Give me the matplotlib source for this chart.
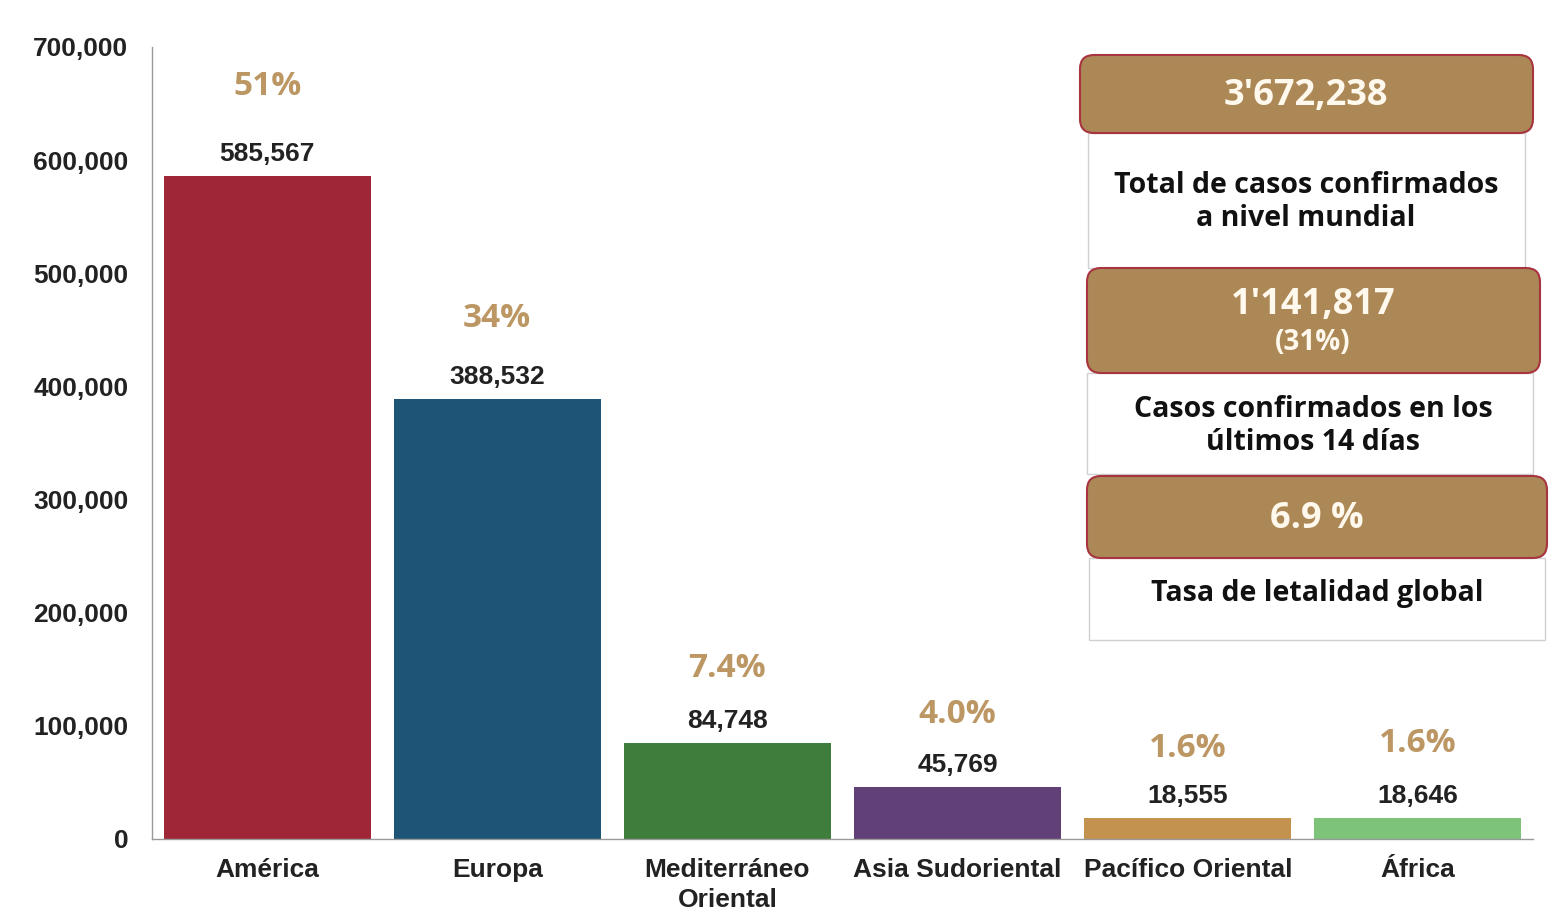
import numpy as np
import matplotlib.pyplot as plt
from matplotlib.patches import FancyBboxPatch, Rectangle
from matplotlib import font_manager

# Casos confirmados por region OMS
regions = ['América', 'Europa', 'Mediterráneo\nOriental', 'Asia Sudoriental',
           'Pacífico Oriental', 'África']
cases = [585567, 388532, 84748, 45769, 18555, 18646]
shares = ['51%', '34%', '7.4%', '4.0%', '1.6%', '1.6%']
bar_colors = ['#9E2637', '#1E5577', '#3E7D3B', '#614077', '#C4924F', '#7DC47A']

# cifras de los recuadros
total_cases = "3'672,238"
recent_cases = "1'141,817"
recent_share = '(31%)'
lethality = '6.9 %'

yticks = [0, 100000, 200000, 300000, 400000, 500000, 600000, 700000]

names = {f.name for f in font_manager.fontManager.ttflist}
narrow = 'Liberation Sans Narrow' if 'Liberation Sans Narrow' in names else 'Liberation Sans'
boxfont = 'Open Sans'

tan = '#BC9764'
header = '#AD8857'
edge_red = '#A8343F'

# distancia (px) de la etiqueta de porcentaje sobre cada barra
pct_gap = [90, 81, 75, 73, 70, 74]

fig = plt.figure(figsize=(15.5, 9.23), dpi=100)
ax = fig.add_axes([152 / 1550, 1 - 839 / 923, (1533 - 152) / 1550, (839 - 47) / 923])

ind = np.arange(len(regions))
ax.bar(ind, cases, width=0.9, color=bar_colors)
ax.set_xlim(-0.5, 5.5)
ax.set_ylim(0, 700000)

ax.set_yticks(yticks)
ax.set_yticklabels([f'{v:,}' for v in yticks], fontfamily=narrow,
                   fontweight='bold', fontsize=19, color='#222222')
ax.set_xticks(ind)
ax.set_xticklabels(regions, fontfamily=narrow, fontweight='bold',
                   fontsize=19, color='#222222', linespacing=1.3)
ax.tick_params(axis='y', length=0, pad=17)
ax.tick_params(axis='x', length=0, pad=14)

for s in ['top', 'right']:
    ax.spines[s].set_visible(False)
ax.spines['left'].set_color('#999999')
ax.spines['bottom'].set_color('#999999')
ax.spines['left'].set_linewidth(1)
ax.spines['bottom'].set_linewidth(1)

for i, (v, p) in enumerate(zip(cases, shares)):
    ax.annotate(f'{v:,}', (i, v), xytext=(0, 16), textcoords='offset points',
                ha='center', va='center', fontfamily=narrow, fontweight='bold',
                fontsize=19, color='#222222')
    ax.annotate(p, (i, v), xytext=(0, pct_gap[i] * 0.72), textcoords='offset points',
                ha='center', va='center', fontfamily=boxfont, fontweight='bold',
                fontsize=24, color=tan)

# recuadros de la derecha, en pixeles
ov = fig.add_axes([0, 0, 1, 1])
ov.set_xlim(0, 1550)
ov.set_ylim(923, 0)
ov.axis('off')
ov.patch.set_alpha(0)


def panel(x0, x1, ytop, ymid, ybot, bx0, bx1):
    ov.add_patch(Rectangle((bx0, ymid), bx1 - bx0, ybot - ymid, facecolor='white',
                           edgecolor='#D0D0D0', linewidth=1))
    ov.add_patch(FancyBboxPatch((x0, ytop), x1 - x0, ymid - ytop,
                                boxstyle='round,pad=0,rounding_size=14',
                                facecolor=header, edgecolor=edge_red, linewidth=1.5))


panel(1080, 1533, 55, 133, 268, 1088, 1525)
panel(1087, 1540, 268, 373, 474, 1087, 1533)
panel(1087, 1547, 476, 558, 640, 1089, 1545)

big = dict(ha='center', va='center', fontfamily=boxfont, fontweight='bold',
           color='#FFF8EC')
body = dict(ha='center', va='center', fontfamily=boxfont, fontweight='bold',
            color='#111111', fontsize=20.5, linespacing=1.15)

ov.text(1306, 96, total_cases, fontsize=26, **big)
ov.text(1306, 202, 'Total de casos confirmados\na nivel mundial', **body)
ov.text(1313, 305, recent_cases, fontsize=26, **big)
ov.text(1313, 343, recent_share, fontsize=20, **big)
ov.text(1313, 426, 'Casos confirmados en los\núltimos 14 días', **body)
ov.text(1317, 519, lethality, fontsize=26, **big)
ov.text(1317, 593, 'Tasa de letalidad global', **body)

plt.savefig('out.png', dpi=100)
